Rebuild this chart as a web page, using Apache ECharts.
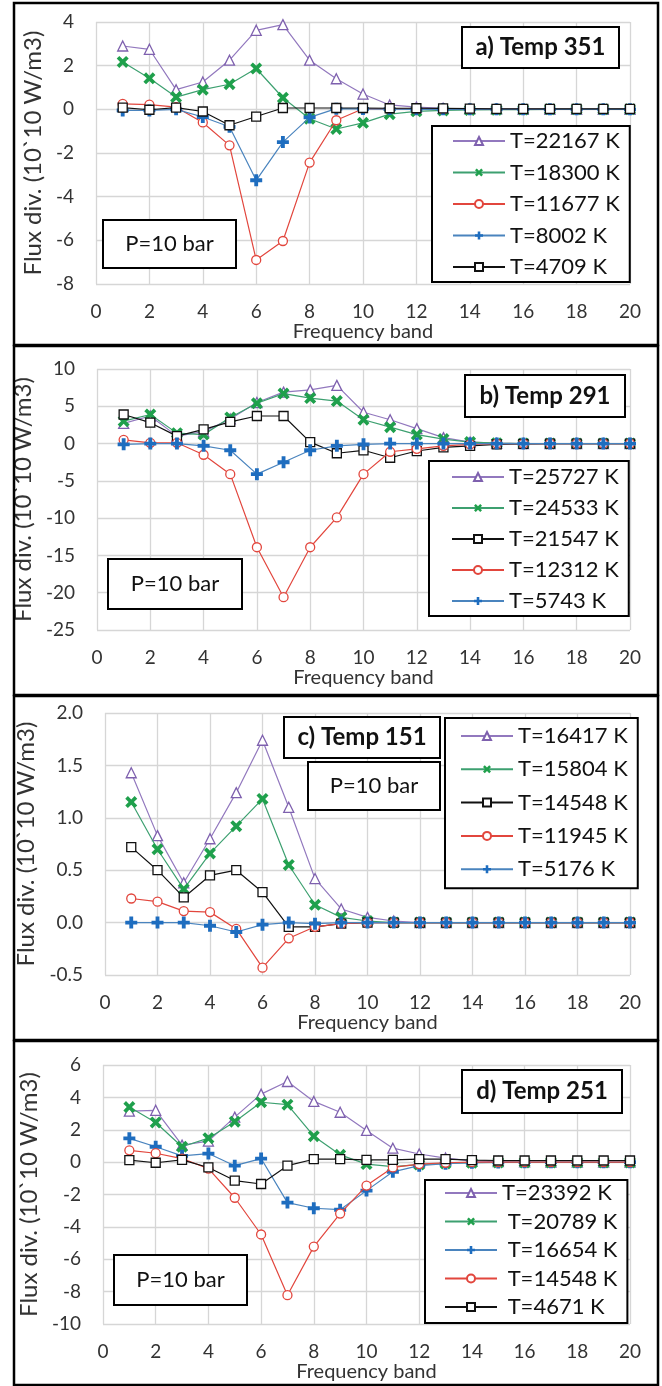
<!DOCTYPE html>
<html><head><meta charset="utf-8">
<script src="https://cdn.jsdelivr.net/npm/echarts@6/dist/echarts.min.js"></script>
<style>html,body{margin:0;padding:0;background:#fff}#c{width:662px;height:1386px}</style>
</head><body><div id="c"></div><script>
// ---------------- DATA ----------------
const bands = [1,2,3,4,5,6,7,8,9,10,11,12,13,14,15,16,17,18,19,20];
const xTicks = [0,2,4,6,8,10,12,14,16,18,20];

// a) Temp 351
const aNames = ['T=22167 K','T=18300 K','T=11677 K','T=8002 K','T=4709 K'];
const a_T22167 = [2.9,2.75,0.9,1.25,2.25,3.62,3.88,2.25,1.4,0.7,0.2,0.1,0.05,0.02,0.01,0,0,0,0,0];
const a_T18300 = [2.17,1.42,0.56,0.9,1.15,1.87,0.53,-0.43,-0.9,-0.62,-0.22,-0.09,-0.05,-0.03,-0.02,-0.01,0,0,0,0];
const a_T11677 = [0.25,0.22,0.1,-0.6,-1.65,-6.9,-6.03,-2.44,-0.5,0.03,0.02,0.01,0,0,0,0,0,0,0,0];
const a_T8002  = [-0.05,-0.05,0,-0.35,-0.8,-3.25,-1.5,-0.37,0.03,0.02,0.01,0,0,0,0,0,0,0,0,0];
const a_T4709  = [0.08,-0.02,0.08,-0.1,-0.73,-0.33,0.06,0.06,0.06,0.06,0.05,0.05,0.04,0.03,0.02,0.02,0.02,0.02,0.02,0.02];

// b) Temp 291
const bNames = ['T=25727 K','T=24533 K','T=21547 K','T=12312 K','T=5743 K'];
const b_T25727 = [2.7,3.7,1.0,1.6,3.3,5.5,6.9,7.2,7.8,4.2,3.2,2.0,0.8,0.2,0.05,0,0,0,0,0];
const b_T24533 = [3.0,3.9,1.4,1.2,3.5,5.4,6.7,6.1,5.7,3.2,2.2,1.2,0.6,0.2,0.05,0,0,0,0,0];
const b_T21547 = [3.9,2.8,1.0,1.9,2.9,3.7,3.7,0.2,-1.3,-0.9,-1.9,-1.0,-0.5,-0.3,-0.1,-0.05,0,0,0,0];
const b_T12312 = [0.5,0.1,0.1,-1.5,-4.1,-13.9,-20.6,-13.9,-9.9,-4.1,-1.1,-0.7,-0.3,-0.1,0,0,0,0,0,0];
const b_T5743  = [-0.1,0,0,-0.3,-0.9,-4.1,-2.5,-0.9,-0.3,-0.1,0,0,0,0,0,0,0,0,0,0];

// c) Temp 151
const cNames = ['T=16417 K','T=15804 K','T=14548 K','T=11945 K','T=5176 K'];
const c_T16417 = [1.43,0.83,0.38,0.8,1.24,1.74,1.1,0.42,0.13,0.05,0.015,0,0,0,0,0,0,0,0,0];
const c_T15804 = [1.15,0.7,0.32,0.66,0.92,1.18,0.55,0.17,0.05,0.015,0,0,0,0,0,0,0,0,0,0];
const c_T14548 = [0.72,0.5,0.24,0.45,0.5,0.29,-0.04,-0.04,-0.01,0,0,0,0,0,0,0,0,0,0,0];
const c_T11945 = [0.23,0.2,0.11,0.1,-0.06,-0.43,-0.15,-0.04,-0.01,0,0,0,0,0,0,0,0,0,0,0];
const c_T5176  = [0,0,0,-0.03,-0.09,-0.02,0,-0.01,0,0,0,0,0,0,0,0,0,0,0,0];

// d) Temp 251
const dNames = ['T=23392 K',' T=20789 K',' T=16654 K',' T=14548 K',' T=4671 K'];
const d_T23392 = [3.15,3.2,1.05,1.3,2.78,4.2,4.98,3.75,3.08,1.96,0.86,0.5,0.25,0.08,0.03,0.01,0,0,0,0];
const d_T20789 = [3.4,2.45,0.95,1.48,2.5,3.7,3.55,1.6,0.45,-0.12,-0.28,-0.15,-0.08,-0.04,-0.02,-0.02,-0.02,-0.02,-0.02,-0.02];
const d_T16654 = [1.47,0.95,0.39,0.53,-0.22,0.22,-2.5,-2.85,-2.94,-1.76,-0.6,-0.22,-0.1,-0.04,-0.02,0,0,0,0,0];
const d_T14548 = [0.73,0.55,0.22,-0.4,-2.2,-4.47,-8.22,-5.22,-3.18,-1.45,-0.33,-0.12,-0.04,0,0,0,0,0,0,0];
const d_T4671  = [0.12,-0.04,0.14,-0.33,-1.14,-1.35,-0.22,0.18,0.18,0.14,0.14,0.18,0.18,0.12,0.1,0.1,0.1,0.1,0.1,0.1];

const titles = ['a) Temp 351','b) Temp 291','c) Temp 151','d) Temp 251'];
const pLabel = 'P=10 bar';
const yTitle = 'Flux div. (10`10 W/m3)';
const xTitle = 'Frequency band';

// ---------------- STYLE ----------------
const FONT = 'Lato';
const X_PATH = 'path://M0,2.2L2.2,0L5,2.8L7.8,0L10,2.2L7.2,5L10,7.8L7.8,10L5,7.2L2.2,10L0,7.8L2.8,5Z';
const PLUS_PATH = 'path://M3.4,0H6.6V3.4H10V6.6H6.6V10H3.4V6.6H0V3.4H3.4Z';
const STY = {
  tri:  {symbol:'triangle', size:10, line:'#9278BE', fill:'#fff', border:'#7E60AE'},
  x:    {symbol:X_PATH, size:12, line:'#3DA070', fill:'#1FA04C', border:null},
  circ: {symbol:'circle', size:9, line:'#E2463D', fill:'#fff', border:'#E2463D'},
  plus: {symbol:PLUS_PATH, size:12, line:'#4A84BE', fill:'#1E6DBF', border:null},
  sq:   {symbol:'rect', size:9, line:'#111', fill:'#fff', border:'#111'}
};

const panels = [
  {names:aNames, vals:[a_T22167,a_T18300,a_T11677,a_T8002,a_T4709], kinds:['tri','x','circ','plus','sq'],
   grid:{left:96, right:32, top:22, height:262}, y:{min:-8,max:4,interval:2}, fmt:null,
   legend:{left:432, top:126, padding:[4,10,4,20], gap:9.5},
   tBox:[461,26,157,41], pBox:[102,219,133,48], frame:[2,345]},
  {names:bNames, vals:[b_T25727,b_T24533,b_T21547,b_T12312,b_T5743], kinds:['tri','x','sq','circ','plus'],
   grid:{left:97, right:32, top:369, height:261}, y:{min:-25,max:10,interval:5}, fmt:null,
   legend:{left:429, top:461, padding:[5,10,4,22], gap:9},
   tBox:[464,374,160,42], pBox:[107,558,134,50], frame:[345,695]},
  {names:cNames, vals:[c_T16417,c_T15804,c_T14548,c_T11945,c_T5176], kinds:['tri','x','sq','circ','plus'],
   grid:{left:105, right:32, top:713, height:262}, y:{min:-0.5,max:2,interval:0.5}, fmt:v=>v.toFixed(1),
   legend:{left:445, top:718, padding:[7,10,8,15], gap:11.3},
   tBox:[283,716,156,41], pBox:[307,761,132,48], frame:[695,1040]},
  {names:dNames, vals:[d_T23392,d_T20789,d_T16654,d_T14548,d_T4671], kinds:['tri','x','plus','circ','sq'],
   grid:{left:103, right:32, top:1065, height:259}, y:{min:-10,max:6,interval:2}, fmt:null,
   legend:{left:425, top:1180, padding:[2,10,5,19], gap:6.5},
   tBox:[461,1069,160,43], pBox:[113,1254,133,50], frame:[1040,1385]}
];

const grid=[], xAxis=[], yAxis=[], series=[], legend=[], graphic=[];
const gridLine = {show:true, lineStyle:{color:'#D6D6D6', width:1.3}};
panels.forEach((p,i)=>{
  grid.push(p.grid);
  xAxis.push({type:'value', gridIndex:i, min:0, max:20, interval:2,
    axisLine:{show:false}, axisTick:{show:false}, splitLine:gridLine,
    axisLabel:{fontFamily:FONT, fontSize:19, color:'#333', margin:18},
    name:xTitle, nameLocation:'middle', nameGap:37,
    nameTextStyle:{fontFamily:FONT, fontSize:20, color:'#333'}});
  yAxis.push({type:'value', gridIndex:i, min:p.y.min, max:p.y.max, interval:p.y.interval,
    axisLine:{show:false}, axisTick:{show:false}, splitLine:gridLine,
    axisLabel:{fontFamily:FONT, fontSize:19, color:'#333', margin:22, formatter:p.fmt||undefined},
    name:yTitle, nameLocation:'middle', nameRotate:90, nameGap:p.grid.left-45,
    nameTextStyle:{fontFamily:FONT, fontSize:24, color:'#333'}});
  p.names.forEach((nm,k)=>{
    const s = STY[p.kinds[k]];
    series.push({type:'line', name:nm, xAxisIndex:i, yAxisIndex:i,
      data: bands.map((b,j)=>[b, p.vals[k][j]]),
      symbol:s.symbol, symbolSize:s.size, showAllSymbol:true,
      lineStyle:{color:s.line, width:1.2},
      itemStyle: s.border ? {color:s.fill, borderColor:s.border, borderWidth:1.3}
                          : {color:s.fill, borderWidth:0},
      z: 3 + k});
  });
  legend.push({data:p.names, orient:'vertical', left:p.legend.left, top:p.legend.top,
    padding:p.legend.padding, itemGap:p.legend.gap, itemWidth:52, itemHeight:10,
    borderColor:'#000', borderWidth:2, backgroundColor:'#fff', selectedMode:false,
    textStyle:{fontFamily:FONT, fontSize:22, color:'#111', lineHeight:22}});
  const box = (r, txt, bold, fs)=>({type:'group', left:r[0], top:r[1], z:100, children:[
    {type:'rect', z:100, shape:{x:0,y:0,width:r[2],height:r[3]}, style:{fill:'#fff', stroke:'#000', lineWidth:2}},
    {type:'text', z:101, x:r[2]/2, y:r[3]/2, style:{text:txt, fill:'#111', font:(bold?'bold ':'')+fs+'px '+FONT, align:'center', verticalAlign:'middle'}}
  ]});
  graphic.push(box(p.tBox, titles[i], true, 24));
  graphic.push(box(p.pBox, pLabel, false, 22));
  graphic.push({type:'rect', z:102, shape:{x:14, y:p.frame[0]+1, width:644, height:p.frame[1]-p.frame[0]-1},
    style:{fill:'none', stroke:'#000', lineWidth:2.5}});
});

const chart = echarts.init(document.getElementById('c'), null, {renderer:'canvas'});
chart.setOption({animation:false, backgroundColor:'#fff', grid, xAxis, yAxis, series, legend, graphic});
</script></body></html>
